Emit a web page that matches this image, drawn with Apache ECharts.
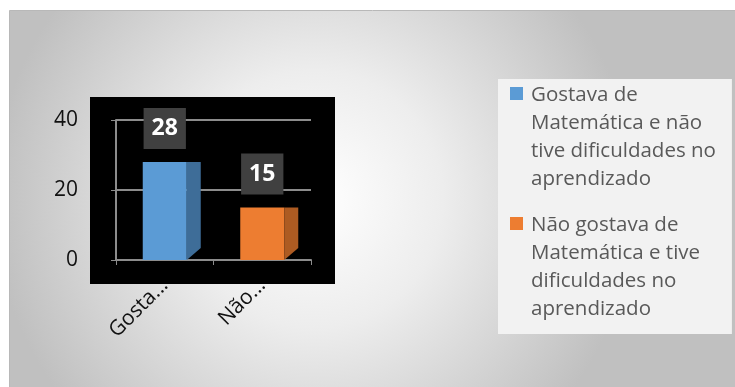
<!DOCTYPE html>
<html>
<head>
<meta charset="utf-8">
<script src="https://cdn.jsdelivr.net/npm/echarts@6/dist/echarts.min.js"></script>
<style>
html,body{margin:0;padding:0;background:#fff;}
#chart{width:735px;height:387px;}
</style>
</head>
<body>
<div id="chart"></div>
<script>
// ---- data ----
var categories = ['Gostava de Matemática e não tive dificuldades no aprendizado',
                  'Não gostava de Matemática e tive dificuldades no aprendizado'];
var values = [28, 15];
var xTickLabels = ['Gosta...', 'Não...'];
var legendLines = [
  ['Gostava de', 'Matemática e não', 'tive dificuldades no', 'aprendizado'],
  ['Não gostava de', 'Matemática e tive', 'dificuldades no', 'aprendizado']
];
var yTicks = [0, 20, 40];

// ---- styles ----
var frontColors = ['#5b9bd5', '#ed7d31'];
var sideColors = ['#3e6d98', '#ad5b22'];
var FRONT = 44, DEPTH = 14, SLOPE = 12, GAP = 13;

var chart = echarts.init(document.getElementById('chart'), null, {renderer: 'canvas'});

var wrapped = {};
categories.forEach(function (c, i) { wrapped[c] = legendLines[i].join('\n'); });

function renderBar(params, api) {
  var i = api.value(0), v = api.value(1);
  var top = api.coord([i, v]);
  var base = api.coord([i, 0]);
  var x0 = top[0] - FRONT / 2, x1 = x0 + FRONT;
  var k = params.seriesIndex;
  return {
    type: 'group',
    children: [
      {type: 'rect', shape: {x: x0, y: top[1], width: FRONT, height: base[1] - top[1]},
       style: {fill: frontColors[k]}},
      {type: 'polygon', shape: {points: [[x1, top[1]], [x1 + DEPTH, top[1]], [x1 + DEPTH, base[1] - SLOPE], [x1, base[1]]]},
       style: {fill: sideColors[k]}},
      {type: 'text', x: top[0], y: top[1] - GAP,
       style: {text: String(v), fill: '#ffffff', font: 'bold 23px "Open Sans"',
               align: 'center', verticalAlign: 'bottom', backgroundColor: '#404040',
               padding: [8, 8, 8, 8], lineHeight: 25}}
    ]
  };
}

var series = categories.map(function (c, i) {
  return {
    name: c,
    type: 'custom',
    renderItem: renderBar,
    itemStyle: {color: frontColors[i]},
    encode: {x: 0, y: 1},
    data: [[i, values[i]]],
    z: 5
  };
});

var option = {
  backgroundColor: '#ffffff',
  animation: false,
  graphic: [
    {type: 'rect', left: 9, top: 10, shape: {width: 726, height: 377}, z: -10,
     style: {fill: new echarts.graphic.RadialGradient(0.42, 0.5, 0.85, [
       {offset: 0, color: '#ffffff'}, {offset: 0.4, color: '#ededed'}, {offset: 1, color: '#c0c0c0'}
     ]), stroke: '#b8b8b8', lineWidth: 1}},
    {type: 'rect', left: 90, top: 97, shape: {width: 245, height: 187}, z: -5,
     style: {fill: '#000000'}}
  ],
  grid: {left: 116, right: 424, top: 120, bottom: 127},
  xAxis: {
    type: 'category',
    data: categories,
    axisLine: {show: true, lineStyle: {color: '#8c8c8c', width: 2}},
    axisTick: {show: true, length: 5, lineStyle: {color: '#8c8c8c', width: 1}},
    axisLabel: {
      rotate: 45, margin: 22, color: '#111111', fontSize: 21, fontFamily: 'Open Sans',
      formatter: function (val, idx) { return xTickLabels[idx]; }
    }
  },
  yAxis: {
    type: 'value', min: 0, max: 40, interval: 20,
    axisLine: {show: true, lineStyle: {color: '#8c8c8c', width: 2}},
    axisTick: {show: true, length: 5, lineStyle: {color: '#8c8c8c', width: 1}},
    splitLine: {show: true, lineStyle: {color: '#8c8c8c', width: 2}},
    axisLabel: {margin: 38, color: '#111111', fontSize: 21, fontFamily: 'Open Sans',
                formatter: function (v) { return yTicks.indexOf(v) >= 0 ? String(v) : ''; }}
  },
  legend: {
    orient: 'vertical', left: 498, top: 79,
    padding: [2, 16, 10, 12], itemGap: 17, itemWidth: 13, itemHeight: 113,
    icon: 'path://M0,0h0.01v0.01h-0.01z M0,6h13v13h-13z M0,112.99h0.01v0.01h-0.01z',
    backgroundColor: '#f2f2f2', selectedMode: false,
    textStyle: {fontFamily: 'Open Sans', fontSize: 20.5, lineHeight: 28, color: '#595959',
                padding: [0, 0, 0, 3]},
    formatter: function (name) { return wrapped[name]; },
    data: categories
  },
  series: series
};
chart.setOption(option);
</script>
</body>
</html>
